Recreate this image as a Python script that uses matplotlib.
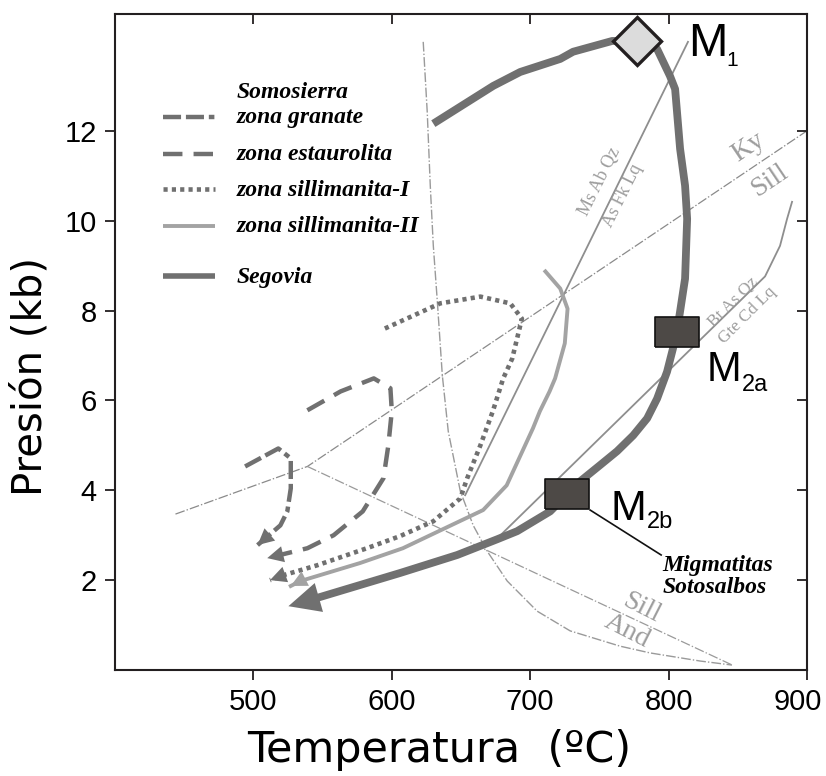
import matplotlib
matplotlib.use('Agg')
import matplotlib.pyplot as plt
import matplotlib.transforms as mtrans
import numpy as np

plt.rcParams['lines.scale_dashes'] = False
plt.rcParams['font.family'] = ['Liberation Sans', 'DejaVu Sans']

# ---------------- data (T in ºC, P in kb) ----------------
seg_T = [630, 673.3, 692.8, 721.7, 731, 759.2, 777.3, 791.7, 801, 804.7, 808.3, 811.9,
         813.4, 811.9, 808.3, 806, 803.2, 798.9, 791.7, 784.5, 774.4, 762.8, 750.5,
         736.1, 726.7, 714.4, 690.6, 676.2, 647.3, 606.1, 541.2, 525.3]
seg_P = [12.16, 13.0, 13.31, 13.6, 13.76, 14.0, 14.0, 13.82, 13.22, 12.93, 11.6, 10.78,
         10.04, 8.71, 7.98, 7.53, 7.16, 6.64, 6.04, 5.6, 5.22, 4.87, 4.56,
         4.2, 3.91, 3.53, 3.09, 2.91, 2.56, 2.16, 1.56, 1.42]

gra_T = [494, 518, 527, 527, 524.5, 519.5, 503]
gra_P = [4.53, 4.93, 4.71, 4.04, 3.53, 3.22, 2.78]

est_T = [539, 563, 587, 599, 600, 597.5, 594, 579, 558, 539, 510]
est_P = [5.78, 6.2, 6.49, 6.27, 5.76, 5.0, 4.27, 3.53, 3.0, 2.71, 2.49]

sil1_T = [595, 635, 664, 685.6, 694, 687, 680.5, 673, 664, 654.5, 649.5, 630, 606, 582, 546, 521.7, 512]
sil1_P = [7.6, 8.16, 8.31, 8.16, 7.82, 6.93, 6.49, 5.76, 5.0, 4.27, 3.82, 3.31, 2.98, 2.71, 2.33, 2.11, 2.0]

sil2_T = [711, 721.7, 727, 725, 718, 714, 707, 702, 683, 666, 608, 577, 534, 527]
sil2_P = [8.87, 8.49, 8.04, 7.27, 6.49, 6.2, 5.76, 5.38, 4.11, 3.56, 2.71, 2.38, 1.98, 1.87]

# reaction / phase boundaries
kyas_T = [443.7, 539, 900]          # Ky/And then Ky/Sill
kyas_P = [3.47, 4.53, 12.0]
andsil_T = [539, 846]
andsil_P = [4.53, 0.11]
ms_T = [653, 814]                    # Ms Ab Qz = As Fk Lq
ms_P = [3.89, 13.98]
bt_T = [676.2, 869.7, 880.5, 885.6, 889.2]   # Bt As Qz = Gte Cd Lq
bt_P = [2.93, 8.76, 9.44, 10.04, 10.42]
sol_T = [622.7, 625.6, 627.8, 630, 632.9, 636.5, 640.8, 649.5, 658.8, 669, 683.4, 705,
         728.9, 765, 786.6, 822.7, 845.8]
sol_P = [13.98, 12.42, 10.78, 9.44, 8.2, 6.56, 5.31, 3.98, 3.22, 2.64, 1.98, 1.31,
         0.87, 0.53, 0.38, 0.2, 0.11]

# metamorphic stages
m1_T, m1_P = 777.3, 14.0
m2a_T, m2a_P = 806, 7.53
m2b_T, m2b_P = 726.7, 3.91

xticks = [500, 600, 700, 800, 900]
yticks = [2, 4, 6, 8, 10, 12]

legend_labels = ['zona granate', 'zona estaurolita', 'zona sillimanita-I',
                 'zona sillimanita-II', 'Segovia']

# ---------------- figure ----------------
W, H = 826, 776
fig = plt.figure(figsize=(W / 100, H / 100), dpi=100)
ax = fig.add_axes([115 / W, 106 / H, 692 / W, 656 / H])
ax.set_xlim(400, 900)
ax.set_ylim(0, 14.6)

DARK = '#707070'
LIGHT = '#a3a3a3'
THIN = '#8e8e8e'
LBL = '#9d9d9d'
serif_bi = dict(family='Liberation Serif', style='italic', weight='bold')
serif = dict(family='Liberation Serif')

# phase boundaries
ax.plot(kyas_T, kyas_P, color='#8a8a8a', lw=0.9, ls=(0, (7, 1.5, 1, 1.5)), zorder=1)
ax.plot(andsil_T, andsil_P, color='#9a9a9a', lw=0.9, ls=(0, (7, 1.5, 1, 1.5)), zorder=1)
ax.plot(sol_T, sol_P, color='#9a9a9a', lw=1.0, ls=(0, (7, 1.5, 1, 1.5)), zorder=1)
ax.plot(ms_T, ms_P, color=THIN, lw=1.3, zorder=1)
ax.plot(bt_T, bt_P, color=THIN, lw=1.3, zorder=1)

# paths
styles = {
    'gra': dict(color=DARK, lw=3.2, ls=(0, (13, 3.5, 13, 3.5, 4, 3.5))),
    'est': dict(color=DARK, lw=3.2, ls=(0, (14, 8))),
    'sil1': dict(color=DARK, lw=3.3, ls=(0, (3, 3))),
    'sil2': dict(color=LIGHT, lw=2.8, ls='-'),
    'seg': dict(color=DARK, lw=5.6, ls='-'),
}
paths = [('gra', gra_T, gra_P), ('est', est_T, est_P), ('sil1', sil1_T, sil1_P),
         ('sil2', sil2_T, sil2_P)]
for key, T, P in paths:
    st = styles[key]
    ax.plot(T, P, color=st['color'], lw=st['lw'], ls=st['ls'],
            solid_joinstyle='round', zorder=2)
    ax.annotate('', xy=(T[-1], P[-1]), xytext=(T[-2], P[-2]),
                arrowprops=dict(arrowstyle='-|>,head_length=0.9,head_width=0.45',
                                color=st['color'], lw=0, shrinkA=0, shrinkB=0,
                                mutation_scale=13), zorder=2)

st = styles['seg']
ax.plot(seg_T[:-1], seg_P[:-1], color=st['color'], lw=st['lw'], solid_joinstyle='round',
        solid_capstyle='butt', zorder=3)
ax.annotate('', xy=(seg_T[-1], seg_P[-1]), xytext=(seg_T[-2], seg_P[-2]),
            arrowprops=dict(arrowstyle='-|>,head_length=0.95,head_width=0.45',
                            color=st['color'], lw=0, shrinkA=0, shrinkB=0,
                            mutation_scale=24), zorder=3)

# stage markers
ax.plot([m1_T], [m1_P], marker='D', ms=24, mfc='#dcdcdc', mec='#231f20', mew=2.4,
        zorder=5, clip_on=False)
rect = [(-22, -15), (22, -15), (22, 15), (-22, 15), (-22, -15)]
for (t, p) in [(m2a_T, m2a_P), (m2b_T, m2b_P)]:
    ax.plot([t], [p], marker=rect, ms=32, mfc='#4d4946', mec='#111111', mew=1.2, zorder=5)

# stage labels
ax.text(814.1, 13.67, 'M', fontsize=34, ha='left', va='baseline', zorder=6)
ax.text(841.5, 13.44, '1', fontsize=15, ha='left', va='baseline', zorder=6)
ax.text(827.8, 6.44, 'M', fontsize=30, ha='left', va='baseline', zorder=6)
ax.text(853, 6.2, '2a', fontsize=17, ha='left', va='baseline', zorder=6)
ax.text(757.8, 3.33, 'M', fontsize=31, ha='left', va='baseline', zorder=6)
ax.text(784.5, 3.16, '2b', fontsize=17, ha='left', va='baseline', zorder=6)

ax.plot([743.3, 794.6], [3.56, 2.56], color='#111111', lw=1.2, zorder=4)
ax.text(795.3, 2.2, 'Migmatitas', fontsize=17, ha='left', va='baseline', **serif_bi)
ax.text(795.3, 1.71, 'Sotosalbos', fontsize=17, ha='left', va='baseline', **serif_bi)

# reaction labels
def lab(x, y, s, rot, size):
    ax.text(x, y, s, rotation=rot, rotation_mode='anchor', ha='center', va='center',
            color=LBL, fontsize=size, zorder=6, **serif)

lab(750.5, 10.87, 'Ms Ab Qz', 63.5, 13)
lab(766.4, 10.56, 'As Fk Lq', 63.5, 13)
lab(846.6, 8.2, 'Bt As Qz', 45, 12.5)
lab(856.7, 7.89, 'Gte Cd Lq', 45, 12.5)
lab(857.4, 11.64, 'Ky', 34, 20)
lab(873.3, 10.89, 'Sill', 34, 20)
lab(780.1, 1.38, 'Sill', -27, 20)
lab(770.0, 0.87, 'And', -27, 20)

# legend (manual)
def fx(px):
    return (px - 115) / 692
def fy(py):
    return (670 - py) / 656

ax.text(fx(237), fy(92), 'Somosierra', transform=ax.transAxes, fontsize=17,
        ha='left', va='center', **serif_bi)
rows_y = [117, 154, 189, 226, 276]
keys = ['gra', 'est', 'sil1', 'sil2', 'seg']
for yy, key, label in zip(rows_y, keys, legend_labels):
    st = styles[key]
    lw = 4.0 if key == 'seg' else st['lw']
    ax.plot([fx(163), fx(215)], [fy(yy), fy(yy)], transform=ax.transAxes,
            color=st['color'], lw=lw, ls=st['ls'], solid_capstyle='butt',
            dash_capstyle='butt')
    ax.text(fx(237), fy(yy + 1), label, transform=ax.transAxes, fontsize=17,
            ha='left', va='center', **serif_bi)

# axes styling
for s in ax.spines.values():
    s.set_linewidth(1.5)
    s.set_color('#231f20')
ax.set_xticks(xticks)
ax.set_yticks(yticks)
ax.tick_params(axis='both', which='major', direction='out', length=7, width=1.3,
               labelsize=21, color='#231f20', pad=6)
ax.tick_params(top=True, right=True, labeltop=False, labelright=False)
for t in ax.xaxis.get_major_ticks():
    t.tick2line.set_marker(matplotlib.lines.TICKDOWN)
for t in ax.yaxis.get_major_ticks():
    t.tick2line.set_marker(matplotlib.lines.TICKLEFT)
# last x tick label kept inside the figure
lastlab = ax.xaxis.get_major_ticks()[-1].label1
lastlab.set_transform(lastlab.get_transform() +
                      mtrans.ScaledTranslation(-9 / 100, 0, fig.dpi_scale_trans))

ax.set_xlabel('Temperatura  (ºC)', fontsize=31, family='DejaVu Sans')
ax.set_ylabel('Presión (kb)', fontsize=29, family='DejaVu Sans')
ax.xaxis.set_label_coords(fx(439), fy(750), transform=ax.transAxes)
ax.yaxis.set_label_coords(fx(30), fy(377), transform=ax.transAxes)
ax.xaxis.label.set_va('center')
ax.yaxis.label.set_va('center')

fig.savefig('out.png', dpi=100)
